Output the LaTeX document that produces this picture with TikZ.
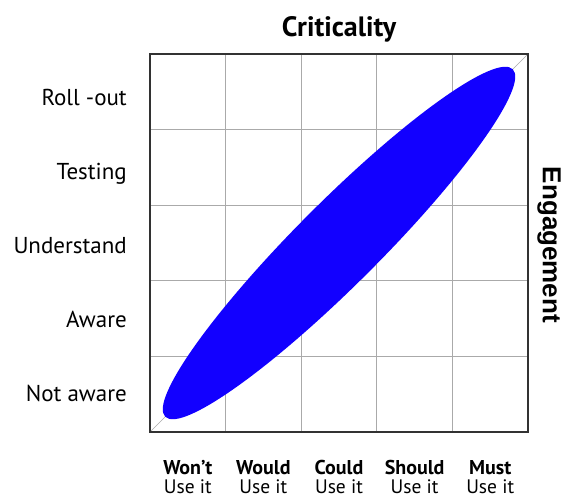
\documentclass[tikz,border=0pt]{standalone}
\usepackage{fontspec}
\setmainfont{PT Sans}
\newfontfamily\engfont{Liberation Sans}
\usetikzlibrary{positioning}
\definecolor{blobblue}{RGB}{18,0,255}
\definecolor{gridgray}{RGB}{170,170,170}
\definecolor{framegray}{RGB}{50,50,50}
\tikzset{
  rowlabel/.style={anchor=base east,font=\fontsize{23}{25}\selectfont},
  collabel/.style={anchor=base,inner sep=0pt,font=\fontsize{20}{22}\selectfont\bfseries},
  colsub/.style={anchor=base,inner sep=0pt,font=\fontsize{19.5}{21}\selectfont},
}

\begin{document}
\begin{tikzpicture}[x=75.6pt,y=75.6pt]
\useasboundingbox (-1.984,-0.873) rectangle (5.476,5.714);
% inner grid, 5 by 5 cells
\foreach \k in {1,...,4} {
  \draw[gridgray,line width=0.8pt] (\k,0) -- (\k,5);
  \draw[gridgray,line width=0.8pt] (0,\k) -- (5,\k);
}
\draw[gridgray,line width=0.6pt] (0,0) -- (5,5);
% the blob lies along the diagonal
\fill[blobblue,rotate around={45:(2.5,2.5)}] (2.5,2.5) ellipse (3.25 and 0.55);
\draw[framegray,line width=1.2pt] (0,0) rectangle (5,5);
\node[anchor=base,font=\fontsize{28}{30}\selectfont\bfseries] (crit) at (2.5,5.225) {Criticality};
\node[rotate=-90,anchor=base,font=\engfont\bfseries\fontsize{26}{28}\selectfont] (eng) at (5.198,2.474) {Engagement};
% row labels, bottom to top
\foreach \lab [count=\k from 0] in {Not aware,Aware,Understand,Testing,Roll -out}
  \node[rowlabel] (row\k) at (-0.26,{0.40+0.981*\k}) {\lab};
% column labels
\foreach \lab [count=\k from 0] in {Won't,Would,Could,Should,Must} {
  \node[collabel] (col\k) at (\k+0.5,-0.56) {\lab};
  \node[colsub] (use\k) at (\k+0.5,-0.81) {Use it};
}
\end{tikzpicture}
\end{document}
